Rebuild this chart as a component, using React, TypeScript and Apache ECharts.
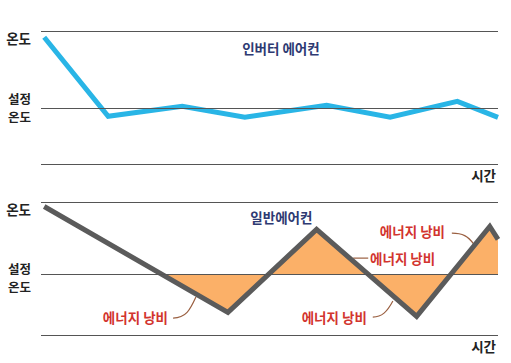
import React, { useEffect, useRef } from "react";
import * as echarts from "echarts";

// ---- data (time in % of window width, temperature relative to set temperature) ----
const TIME_INVERTER = [0.7, 14.7, 30.9, 44.6, 62.5, 76.4, 91.1, 100];
const TEMP_INVERTER = [7.1, -0.8, 0.2, -0.9, 0.3, -0.9, 0.7, -0.9];

const TIME_NORMAL = [0.7, 40.9, 60.3, 82.2, 98.2, 100];
const TEMP_NORMAL = [6.8, -3.8, 4.5, -4.2, 4.8, 3.5];
const WASTE_START_TIME = 26.5; // normal A/C first reaches the set temperature

const Y_RANGE_INVERTER = [-5.6, 7.7];
const Y_RANGE_NORMAL = [-6.1, 7.2];
const SET_TEMP = 0;

const LABEL_TEMP = "온도";
const LABEL_SET_TEMP = ["설정", "온도"];
const LABEL_TIME = "시간";
const TITLE_INVERTER = "인버터 에어컨";
const TITLE_NORMAL = "일반에어컨";
const LABEL_WASTE = "에너지 낭비";

const FONT = '"Noto Sans CJK KR", "Noto Sans", sans-serif';
const BLUE = "#29b5e6";
const GRAY = "#5b5b5b";
const ORANGE = "#fbb068";
const RED = "#d2342e";
const NAVY = "#2e3a72";
const RULE = "#555555";
const LEADER = "#9a5f40";

export default function App() {
  const ref = useRef<HTMLDivElement>(null);
  useEffect(() => {
    if (!ref.current) return;
    const chart = echarts.init(ref.current, undefined, { renderer: "svg" });

    const pairs = (ts: number[], vs: number[]) => ts.map((t, i) => [t, vs[i]]);
    const wasteData = [[WASTE_START_TIME, SET_TEMP], ...pairs(TIME_NORMAL, TEMP_NORMAL).slice(1)];

    const rules = (range: number[]) => ({
      silent: true,
      symbol: ["none", "none"],
      label: { show: false },
      lineStyle: { color: RULE, width: 1, type: "solid" },
      emphasis: { disabled: true },
      data: [{ yAxis: range[1] }, { yAxis: SET_TEMP }, { yAxis: range[0] }],
    });

    chart.setOption({
      animation: false,
      grid: [
        { left: 41, top: 31.3, width: 457, height: 133 },
        { left: 41, top: 202.5, width: 457, height: 132.8 },
      ],
      xAxis: [
        { type: "value", gridIndex: 0, min: 0, max: 100, show: false },
        { type: "value", gridIndex: 1, min: 0, max: 100, show: false },
      ],
      yAxis: [
        { type: "value", gridIndex: 0, min: Y_RANGE_INVERTER[0], max: Y_RANGE_INVERTER[1], show: false },
        { type: "value", gridIndex: 1, min: Y_RANGE_NORMAL[0], max: Y_RANGE_NORMAL[1], show: false },
      ],
      series: [
        {
          type: "line",
          xAxisIndex: 0,
          yAxisIndex: 0,
          data: pairs(TIME_INVERTER, TEMP_INVERTER),
          symbol: "none",
          clip: false,
          lineStyle: { color: BLUE, width: 5, join: "miter" },
          markLine: rules(Y_RANGE_INVERTER),
          z: 3,
        },
        {
          type: "line",
          xAxisIndex: 1,
          yAxisIndex: 1,
          data: wasteData,
          symbol: "none",
          lineStyle: { width: 0 },
          areaStyle: { color: ORANGE, opacity: 1, origin: SET_TEMP },
          z: 1,
        },
        {
          type: "line",
          xAxisIndex: 1,
          yAxisIndex: 1,
          data: [],
          symbol: "none",
          markLine: rules(Y_RANGE_NORMAL),
          z: 2,
        },
        {
          type: "line",
          xAxisIndex: 1,
          yAxisIndex: 1,
          data: pairs(TIME_NORMAL, TEMP_NORMAL),
          symbol: "none",
          clip: false,
          lineStyle: { color: GRAY, width: 5, join: "miter" },
          z: 3,
        },
      ],
    });

    const P = (g: number, t: number, v: number) =>
      chart.convertToPixel({ gridIndex: g } as any, [t, v]) as number[];

    const graphic: any[] = [];
    const text = (x: number, y: number, s: string, fill: string, size: number, align: string) =>
      graphic.push({
        type: "text",
        x,
        y,
        silent: true,
        style: {
          text: s,
          fill,
          fontFamily: FONT,
          fontSize: size,
          fontWeight: "bold",
          align,
          verticalAlign: "middle",
        },
      });

    const ranges = [Y_RANGE_INVERTER, Y_RANGE_NORMAL];
    const setOffsets = [
      [-9.5, 8.5],
      [-6, 12],
    ];
    ranges.forEach((r, g) => {
      const top = P(g, 0, r[1]);
      const set = P(g, 0, SET_TEMP);
      const bot = P(g, 100, r[0]);
      text(top[0] - 10, top[1] + 6.5, LABEL_TEMP, "#222", 13.5, "right");
      text(set[0] - 10, set[1] + setOffsets[g][0], LABEL_SET_TEMP[0], "#222", 12.5, "right");
      text(set[0] - 10, set[1] + setOffsets[g][1], LABEL_SET_TEMP[1], "#222", 12.5, "right");
      text(bot[0] - 2, bot[1] + 11, LABEL_TIME, "#222", 13.5, "right");
    });

    const t1 = P(0, 52.5, 6.03);
    text(t1[0], t1[1], TITLE_INVERTER, NAVY, 13.5, "center");
    const t2 = P(1, 52.6, 5.78);
    text(t2[0], t2[1], TITLE_NORMAL, NAVY, 13.5, "center");

    // energy waste annotations: text anchor (t, v), alignment, leader bezier points
    const wastes: { at: number[]; align: string; leader: number[][] }[] = [
      { at: [27.8, -4.27], align: "right", leader: [[28.9, -4.37], [31.7, -4.37], [32.6, -3.57], [33.9, -2.27]] },
      { at: [71.3, -4.27], align: "right", leader: [[72.6, -4.27], [74.6, -4.27], [75.7, -3.77], [77.0, -2.67]] },
      { at: [72.0, 1.63], align: "left", leader: [[68.3, 1.63], [69.5, 1.63], [70.5, 1.63], [71.6, 1.63]] },
      { at: [88.4, 4.33], align: "right", leader: [[89.9, 4.13], [92.3, 4.13], [93.4, 3.83], [94.7, 3.03]] },
    ];
    wastes.forEach((w) => {
      const a = P(1, w.at[0], w.at[1]);
      text(a[0], a[1], LABEL_WASTE, RED, 13.5, w.align);
      const [p0, c1, c2, p3] = w.leader.map((p) => P(1, p[0], p[1]));
      graphic.push({
        type: "bezierCurve",
        silent: true,
        shape: { x1: p0[0], y1: p0[1], cpx1: c1[0], cpy1: c1[1], cpx2: c2[0], cpy2: c2[1], x2: p3[0], y2: p3[1] },
        style: { stroke: LEADER, lineWidth: 1.2, fill: "none" },
      });
    });

    chart.setOption({ graphic });

    return () => chart.dispose();
  }, []);

  return (
    <div
      ref={ref}
      style={{ position: "fixed", left: 0, top: 0, width: 511, height: 363, background: "#fff" }}
    />
  );
}
